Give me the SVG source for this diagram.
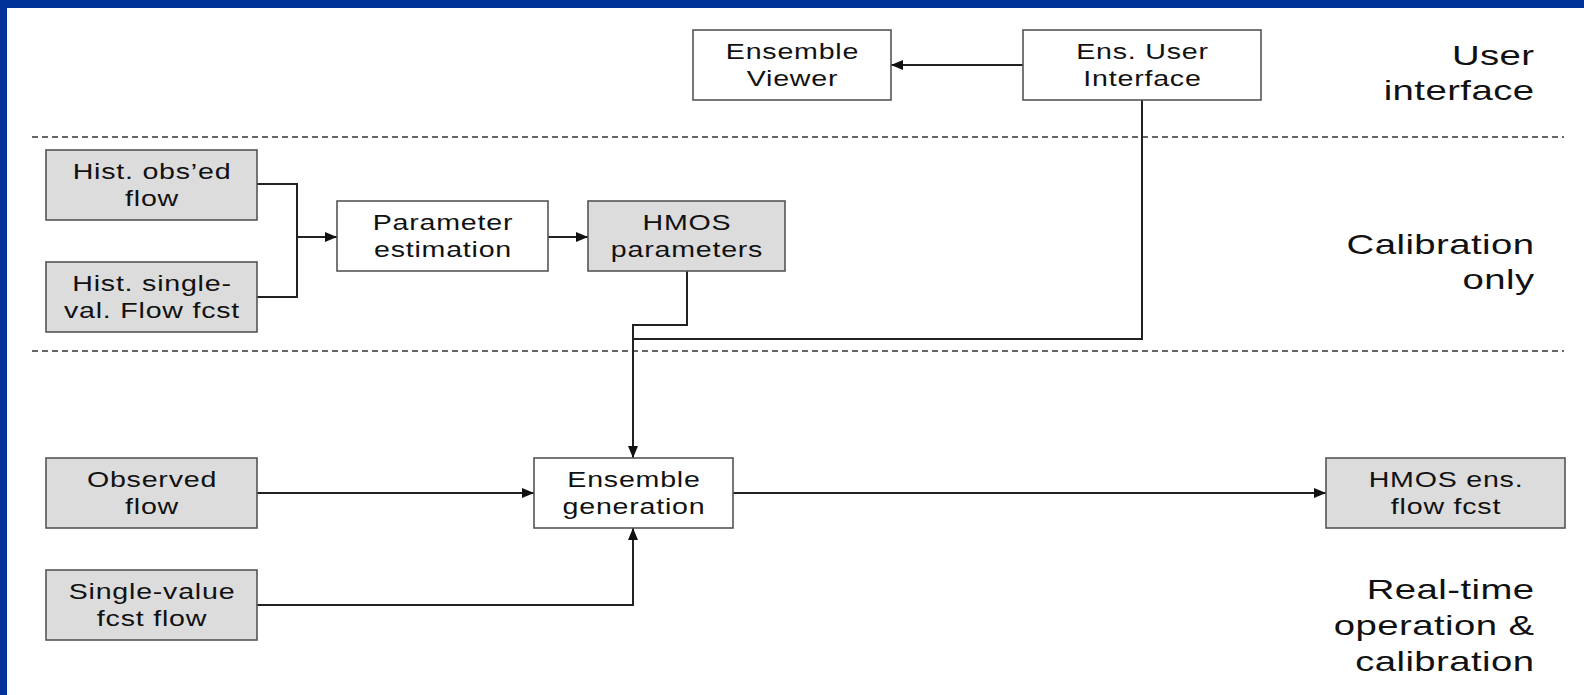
<svg xmlns="http://www.w3.org/2000/svg" width="1584" height="695" viewBox="0 0 1584 695">
<style>
.box{stroke:#555;stroke-width:1.6}
.w{fill:#fff}
.g{fill:#dcdcdc}
.t{font-family:"Liberation Sans",Arial,sans-serif;font-size:22px;fill:#111;text-anchor:middle;letter-spacing:0.6px}
.lbl{font-family:"Liberation Sans",Arial,sans-serif;font-size:27px;fill:#111;text-anchor:end;letter-spacing:0.3px}
.c{fill:none;stroke:#222;stroke-width:2}
.dash{stroke:#333;stroke-width:1.5;stroke-dasharray:6 4}
</style>
<defs>
<marker id="arr" markerUnits="userSpaceOnUse" markerWidth="12" markerHeight="10" refX="12" refY="5" orient="auto">
<path d="M0,0 L12,5 L0,10 z" fill="#111"/>
</marker>
</defs>
<rect x="0" y="0" width="1584" height="695" fill="#fff"/>
<rect x="0" y="0" width="1584" height="8" fill="#003399"/>
<rect x="0" y="0" width="7" height="695" fill="#003399"/>

<g id="separators">
<line class="dash" x1="32" y1="137" x2="1564" y2="137"/>
<line class="dash" x1="32" y1="351" x2="1564" y2="351"/>
</g>

<g id="labels">
<text class="lbl" transform="translate(1534.5,65) scale(1.42,1)">User</text>
<text class="lbl" transform="translate(1534.5,100) scale(1.42,1)">interface</text>
<text class="lbl" transform="translate(1534.5,254) scale(1.42,1)">Calibration</text>
<text class="lbl" transform="translate(1534.5,289) scale(1.42,1)">only</text>
<text class="lbl" transform="translate(1534.5,599) scale(1.42,1)">Real-time</text>
<text class="lbl" transform="translate(1534.5,635) scale(1.42,1)">operation &amp;</text>
<text class="lbl" transform="translate(1534.5,671) scale(1.42,1)">calibration</text>
</g>

<g id="connectors">
<path class="c" d="M1023,65 H891" marker-end="url(#arr)"/>
<path class="c" d="M1142,100 V339 H633 V458" marker-end="url(#arr)"/>
<path class="c" d="M687,271 V325 H633 V339"/>
<path class="c" d="M257,184 H297 V297 H257"/>
<path class="c" d="M297,237 H337" marker-end="url(#arr)"/>
<path class="c" d="M548,237 H588" marker-end="url(#arr)"/>
<path class="c" d="M257,493 H534" marker-end="url(#arr)"/>
<path class="c" d="M257,605 H633 V528" marker-end="url(#arr)"/>
<path class="c" d="M733,493 H1326" marker-end="url(#arr)"/>
</g>

<g id="ensemble-viewer">
<rect class="box w" x="693" y="30" width="198" height="70"/>
<text class="t" transform="translate(792.5,59) scale(1.3,1)">Ensemble</text>
<text class="t" transform="translate(792.5,86) scale(1.3,1)">Viewer</text>
</g>
<g id="ens-user-interface">
<rect class="box w" x="1023" y="30" width="238" height="70"/>
<text class="t" transform="translate(1142.5,59) scale(1.3,1)">Ens. User</text>
<text class="t" transform="translate(1142.5,86) scale(1.3,1)">Interface</text>
</g>
<g id="hist-obs-flow">
<rect class="box g" x="46" y="150" width="211" height="70"/>
<text class="t" transform="translate(152,179) scale(1.3,1)">Hist. obs’ed</text>
<text class="t" transform="translate(152,206) scale(1.3,1)">flow</text>
</g>
<g id="hist-single-val">
<rect class="box g" x="46" y="262" width="211" height="70"/>
<text class="t" transform="translate(152,291) scale(1.3,1)">Hist. single-</text>
<text class="t" transform="translate(152,318) scale(1.3,1)">val. Flow fcst</text>
</g>
<g id="parameter-estimation">
<rect class="box w" x="337" y="201" width="211" height="70"/>
<text class="t" transform="translate(443,230) scale(1.3,1)">Parameter</text>
<text class="t" transform="translate(443,257) scale(1.3,1)">estimation</text>
</g>
<g id="hmos-parameters">
<rect class="box g" x="588" y="201" width="197" height="70"/>
<text class="t" transform="translate(687,230) scale(1.3,1)">HMOS</text>
<text class="t" transform="translate(687,257) scale(1.3,1)">parameters</text>
</g>
<g id="observed-flow">
<rect class="box g" x="46" y="458" width="211" height="70"/>
<text class="t" transform="translate(152,487) scale(1.3,1)">Observed</text>
<text class="t" transform="translate(152,514) scale(1.3,1)">flow</text>
</g>
<g id="single-value-fcst">
<rect class="box g" x="46" y="570" width="211" height="70"/>
<text class="t" transform="translate(152,599) scale(1.3,1)">Single-value</text>
<text class="t" transform="translate(152,626) scale(1.3,1)">fcst flow</text>
</g>
<g id="ensemble-generation">
<rect class="box w" x="534" y="458" width="199" height="70"/>
<text class="t" transform="translate(634,487) scale(1.3,1)">Ensemble</text>
<text class="t" transform="translate(634,514) scale(1.3,1)">generation</text>
</g>
<g id="hmos-ens-flow">
<rect class="box g" x="1326" y="458" width="239" height="70"/>
<text class="t" transform="translate(1446,487) scale(1.3,1)">HMOS ens.</text>
<text class="t" transform="translate(1446,514) scale(1.3,1)">flow fcst</text>
</g>
</svg>
